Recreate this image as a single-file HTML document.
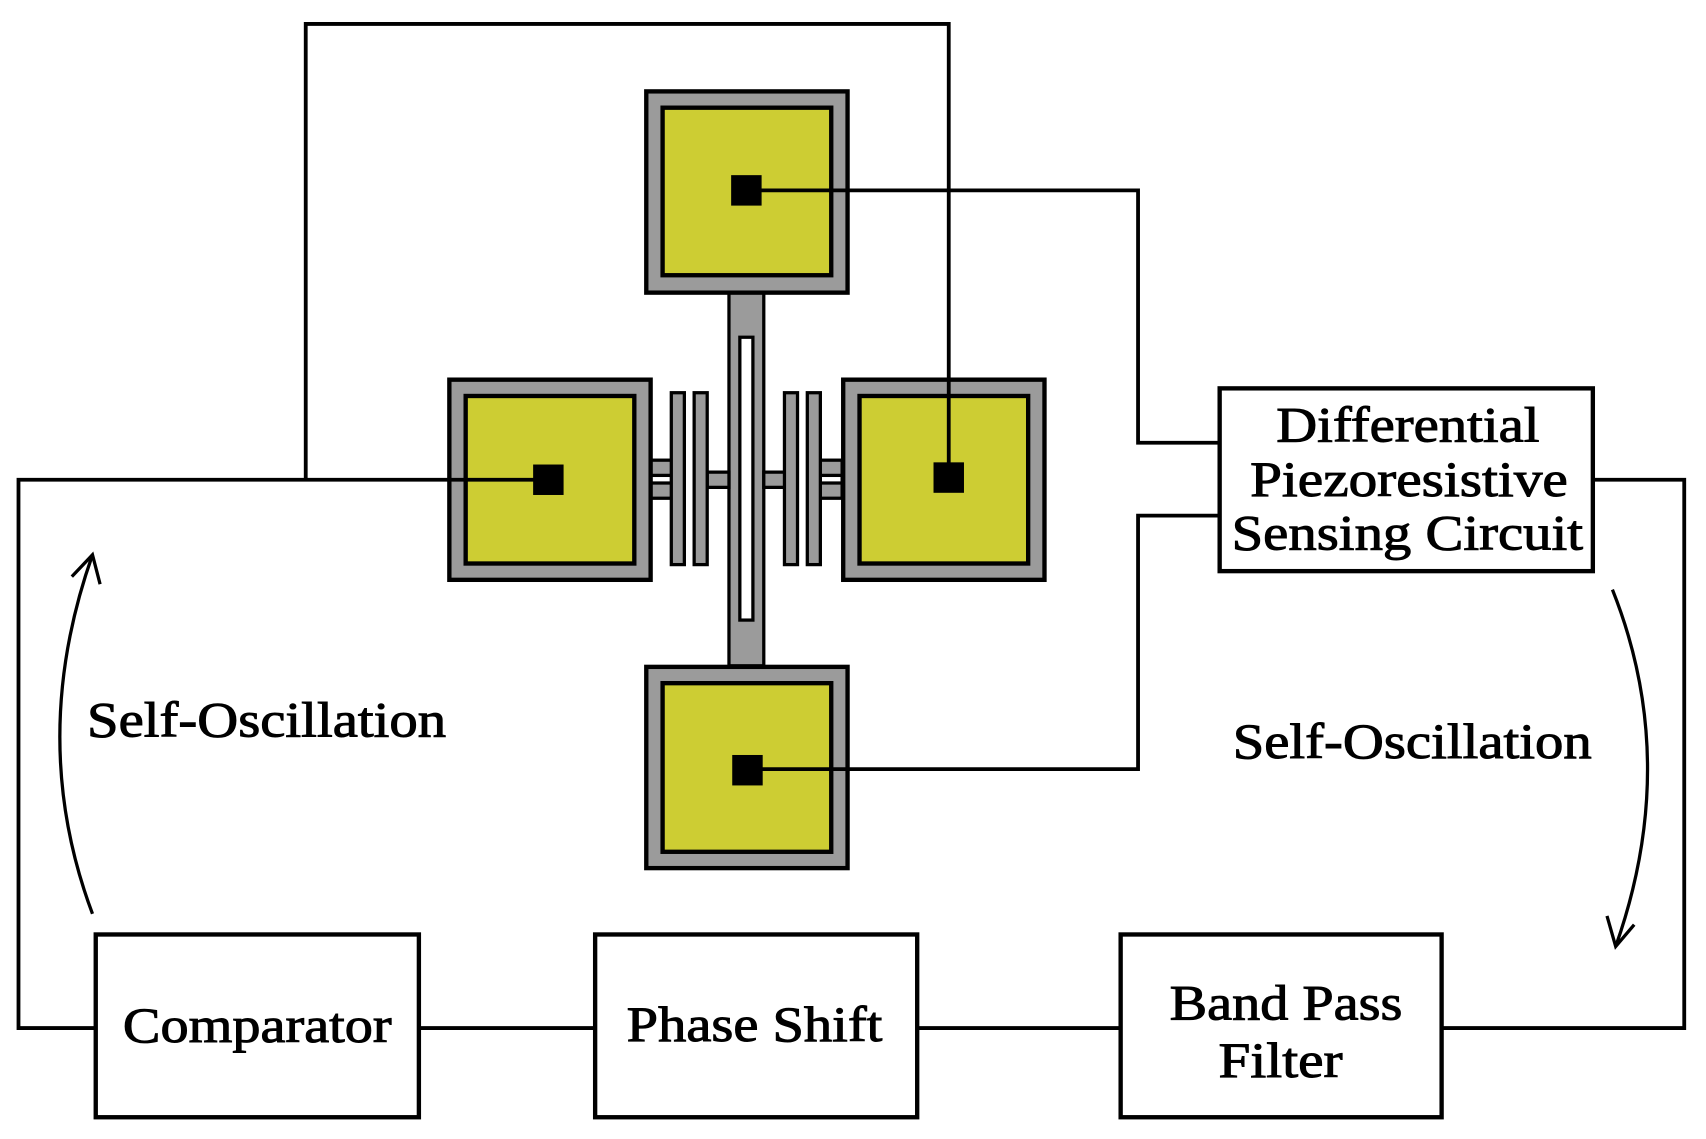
<!DOCTYPE html>
<html><head><meta charset="utf-8"><style>
html,body{margin:0;padding:0;background:#fff;}
svg{display:block;}
text{font-family:"Liberation Serif",serif;fill:#000;stroke:#000;stroke-width:0.9;}
</style></head><body>
<svg width="1706" height="1139" viewBox="0 0 1568 1047" preserveAspectRatio="none" xmlns="http://www.w3.org/2000/svg">
<g stroke="#000" stroke-width="3">
<!-- beam -->
<rect x="670" y="269" width="32" height="343" fill="#9b9b9b"/>
<rect x="680" y="310" width="12" height="260" fill="#fff"/>
<!-- combs left -->
<rect x="598" y="423" width="21" height="35" fill="#9b9b9b"/>
<rect x="598" y="437" width="21" height="7" fill="#fff"/>
<rect x="650" y="434" width="20" height="14" fill="#9b9b9b"/>
<rect x="617" y="361" width="12" height="158" fill="#9b9b9b"/>
<rect x="638" y="361" width="12" height="158" fill="#9b9b9b"/>
<!-- combs right -->
<rect x="753" y="423" width="21" height="35" fill="#9b9b9b"/>
<rect x="753" y="437" width="21" height="7" fill="#fff"/>
<rect x="702" y="434" width="20" height="14" fill="#9b9b9b"/>
<rect x="721" y="361" width="12" height="158" fill="#9b9b9b"/>
<rect x="742" y="361" width="12" height="158" fill="#9b9b9b"/>
<!-- pads -->
<rect x="594" y="84" width="185" height="185" fill="#9b9b9b" stroke-width="4"/>
<rect x="609" y="99" width="155" height="154" fill="#cdcd33" stroke-width="4"/>
<rect x="594" y="613" width="185" height="185" fill="#9b9b9b" stroke-width="4"/>
<rect x="609" y="628" width="155" height="155" fill="#cdcd33" stroke-width="4"/>
<rect x="413" y="349" width="185" height="184" fill="#9b9b9b" stroke-width="4"/>
<rect x="428" y="364" width="155" height="154" fill="#cdcd33" stroke-width="4"/>
<rect x="775" y="349" width="185" height="184" fill="#9b9b9b" stroke-width="4"/>
<rect x="790" y="364" width="155" height="154" fill="#cdcd33" stroke-width="4"/>
</g>
<g fill="none" stroke="#000" stroke-width="3.5">
<polyline points="281,441 281,22 872,22 872,440"/>
<polyline points="504,441 17,441 17,945 88,945"/>
<line x1="385" y1="945" x2="547" y2="945"/>
<line x1="843" y1="945" x2="1030" y2="945"/>
<polyline points="1325,945 1548,945 1548,441 1464,441"/>
<polyline points="686,175 1046,175 1046,407 1121,407"/>
<polyline points="687,707 1046,707 1046,474 1121,474"/>
</g>
<g fill="#000">
<rect x="672" y="161" width="28" height="28"/>
<rect x="673" y="694" width="28" height="28"/>
<rect x="490" y="427" width="28" height="28"/>
<rect x="858" y="425" width="28" height="28"/>
</g>
<!-- boxes -->
<g fill="#fff" stroke="#000" stroke-width="4">
<rect x="1121" y="357" width="343" height="168"/>
<rect x="88" y="859" width="297" height="168"/>
<rect x="547" y="859" width="296" height="168"/>
<rect x="1030" y="859" width="295" height="168"/>
</g>
<!-- arcs -->
<g fill="none" stroke="#000" stroke-width="3">
<path d="M85,840 Q25,680 85,510"/>
<polyline points="66,530 85,510 92,537"/>
<path d="M1482,542 Q1545,700 1485,870"/>
<polyline points="1477,842 1485,870 1502,850"/>
</g>
<g font-size="46" lengthAdjust="spacingAndGlyphs">
<text x="1173" y="406" textLength="242" lengthAdjust="spacingAndGlyphs">Differential</text>
<text x="1149" y="456" textLength="292" lengthAdjust="spacingAndGlyphs">Piezoresistive</text>
<text x="1132" y="505" textLength="323" lengthAdjust="spacingAndGlyphs">Sensing Circuit</text>
<text x="113" y="958" textLength="247" lengthAdjust="spacingAndGlyphs">Comparator</text>
<text x="576" y="957" textLength="235" lengthAdjust="spacingAndGlyphs">Phase Shift</text>
<text x="1075" y="937" textLength="214" lengthAdjust="spacingAndGlyphs">Band Pass</text>
<text x="1120" y="990" textLength="114" lengthAdjust="spacingAndGlyphs">Filter</text>
<text x="80" y="677" textLength="330" lengthAdjust="spacingAndGlyphs">Self-Oscillation</text>
<text x="1133" y="697" textLength="330" lengthAdjust="spacingAndGlyphs">Self-Oscillation</text>
</g>
</svg>
</body></html>
